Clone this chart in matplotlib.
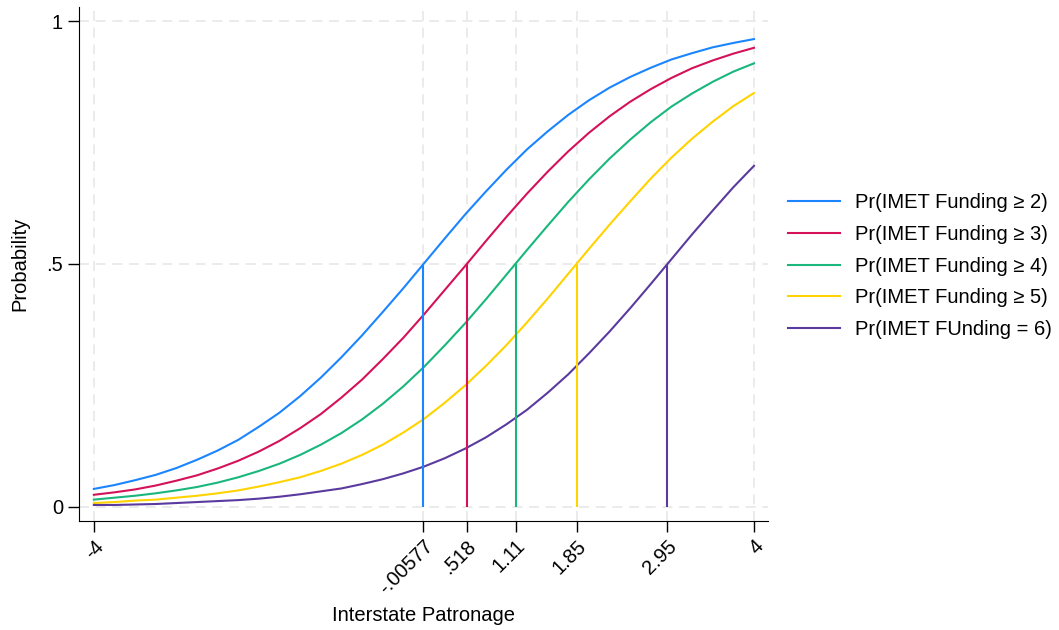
import matplotlib.pyplot as plt

plt.rcParams['font.family'] = ['Liberation Sans', 'DejaVu Sans']

# Interstate patronage values where the curves were read
x = [-4, -3.75, -3.5, -3.25, -3, -2.75, -2.5, -2.25, -2, -1.75, -1.5, -1.25,
     -1, -0.75, -0.5, -0.25, 0, 0.25, 0.5, 0.75, 1, 1.25, 1.5, 1.75,
     2, 2.25, 2.5, 2.75, 3, 3.25, 3.5, 3.75, 4]

# Predicted probabilities
p_ge2 = [0.037, 0.045, 0.055, 0.066, 0.080, 0.097, 0.116, 0.138, 0.165, 0.194,
         0.228, 0.266, 0.308, 0.353, 0.401, 0.450, 0.501, 0.552, 0.602, 0.649,
         0.694, 0.736, 0.773, 0.807, 0.837, 0.863, 0.885, 0.904, 0.921, 0.934,
         0.946, 0.955, 0.963]
p_ge3 = [0.025, 0.030, 0.036, 0.044, 0.054, 0.065, 0.079, 0.095, 0.114, 0.136,
         0.162, 0.191, 0.225, 0.262, 0.304, 0.348, 0.396, 0.446, 0.496, 0.547,
         0.597, 0.645, 0.690, 0.732, 0.770, 0.804, 0.834, 0.860, 0.883, 0.903,
         0.919, 0.933, 0.945]
p_ge4 = [0.015, 0.019, 0.023, 0.028, 0.034, 0.041, 0.050, 0.061, 0.074, 0.089,
         0.107, 0.128, 0.152, 0.180, 0.212, 0.248, 0.288, 0.332, 0.378, 0.427,
         0.478, 0.529, 0.579, 0.628, 0.674, 0.717, 0.756, 0.792, 0.824, 0.851,
         0.875, 0.896, 0.913]
p_ge5 = [0.008, 0.010, 0.013, 0.015, 0.019, 0.023, 0.028, 0.034, 0.042, 0.051,
         0.061, 0.074, 0.089, 0.107, 0.128, 0.153, 0.181, 0.214, 0.250, 0.290,
         0.333, 0.380, 0.429, 0.480, 0.531, 0.581, 0.629, 0.676, 0.719, 0.758,
         0.793, 0.825, 0.852]
p_eq6 = [0.004, 0.004, 0.005, 0.006, 0.008, 0.010, 0.012, 0.014, 0.017, 0.021,
         0.026, 0.032, 0.038, 0.047, 0.057, 0.069, 0.083, 0.100, 0.120, 0.143,
         0.170, 0.200, 0.235, 0.273, 0.316, 0.361, 0.409, 0.459, 0.510, 0.561,
         0.610, 0.658, 0.702]

# Points where each curve crosses 0.5
cortes = [-0.00577, 0.518, 1.11, 1.85, 2.95]

etiquetas = ['Pr(IMET Funding \u2265 2)', 'Pr(IMET Funding \u2265 3)',
             'Pr(IMET Funding \u2265 4)', 'Pr(IMET Funding \u2265 5)',
             'Pr(IMET FUnding = 6)']
colores = ['#1A85FF', '#D41159', '#1AB77D', '#FFD300', '#5A3A9E']

xticks = [-4, -0.00577, 0.518, 1.11, 1.85, 2.95, 4]
xticklabels = ['-4', '-.00577', '.518', '1.11', '1.85', '2.95', '4']
yticks = [0, 0.5, 1]
yticklabels = ['0', '.5', '1']

fs = 14.5

fig = plt.figure(figsize=(10.59, 6.3), dpi=100)
ax = fig.add_axes([79 / 1059, 1 - 521 / 630, 689 / 1059, 514 / 630])

series = [p_ge2, p_ge3, p_ge4, p_ge5, p_eq6]
for serie, col, lab in zip(series, colores, etiquetas):
    ax.plot(x, serie, color=col, lw=1.5, label=lab, zorder=3,
            solid_joinstyle='round')

# Vertical lines from 0 up to 0.5 at each threshold
for c, col in zip(cortes, colores):
    ax.vlines(c, 0, 0.5, colors=col, lw=1.5, zorder=3)

ax.set_xlim(-4.18, 4.17)
ax.set_ylim(-0.029, 1.029)
ax.set_xticks(xticks)
ax.set_xticklabels(xticklabels, rotation=45, ha='right', rotation_mode='anchor')
ax.set_yticks(yticks)
ax.set_yticklabels(yticklabels)
ax.tick_params(labelsize=fs, length=8, width=1, colors='black')
ax.tick_params(axis='x', pad=3)

ax.grid(True, color='#e8e8e8', lw=1.2, ls=(0, (6, 4)), zorder=0)
ax.spines['top'].set_visible(False)
ax.spines['right'].set_visible(False)

ax.set_xlabel('Interstate Patronage', fontsize=fs)
ax.xaxis.set_label_coords(0.5, -0.165)
ax.set_ylabel('Probability', fontsize=fs, labelpad=12)

ax.legend(loc='center left', bbox_to_anchor=(1.029, 0.496), frameon=False,
          fontsize=fs, handlelength=2.6, handletextpad=0.75,
          labelspacing=0.63, borderpad=0, borderaxespad=0)

plt.savefig('out.png', dpi=100)
